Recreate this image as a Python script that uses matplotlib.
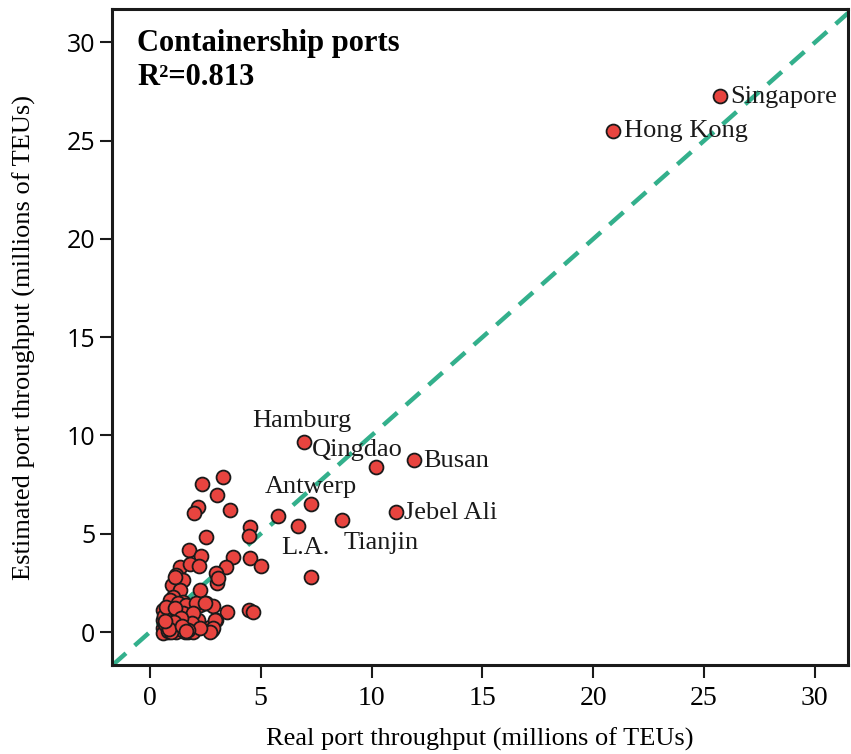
import numpy as np
import matplotlib
matplotlib.use("Agg")
import matplotlib.pyplot as plt

# Labelled ports: real vs estimated throughput (millions of TEUs)
port_names = ["Singapore", "Hong Kong", "Hamburg", "Qingdao", "Busan",
              "Jebel Ali", "Tianjin", "Antwerp", "L.A."]
port_real = [25.7, 20.9, 6.95, 10.2, 11.9, 11.1, 8.66, 7.26, 6.68]
port_est = [27.3, 25.5, 9.68, 8.4, 8.76, 6.1, 5.7, 6.52, 5.4]

# label offsets in pixels (dx, dy, horizontal alignment)
label_offsets = [(11, -1, "left"), (11, 0, "left"), (-2, 21, "center"),
                 (-19, 17, "center"), (10, -1, "left"), (8, -1, "left"),
                 (39, -23, "center"), (0, 17, "center"), (7, -22, "center")]

# remaining ports
other_real = [5.79, 7.26, 3.28, 2.33, 3.05, 2.18, 2.0, 3.61, 4.5, 4.47, 2.53,
              1.77, 2.30, 3.76, 4.51, 5.0, 1.35, 1.83, 2.22, 3.43, 3.0, 3.04,
              2.26, 1.2, 1.5, 0.98, 1.35, 1.04, 1.5, 2.26, 2.53, 2.86, 3.46,
              4.47, 4.66, 3.0, 2.7, 2.78, 2.17, 1.95, 1.73, 1.13, 3.08, 0.9,
              1.28, 1.65, 2.1, 2.48, 0.6, 0.9, 1.5, 1.95, 2.93, 0.6, 1.05,
              1.5, 1.88, 2.86, 0.6, 0.83, 1.2, 1.58, 1.95, 2.7, 0.6, 0.98,
              2.26, 0.75, 0.7, 1.05, 1.35, 0.65, 0.8, 1.25, 1.7, 0.72, 1.15,
              1.4, 0.95, 1.1, 0.85, 1.45, 0.68, 1.62]
other_est = [5.9, 2.8, 7.88, 7.52, 6.95, 6.38, 6.08, 6.21, 5.35, 4.9, 4.86,
             4.18, 3.87, 3.8, 3.75, 3.36, 3.3, 3.46, 3.36, 3.29, 2.99, 2.51,
             2.14, 2.9, 2.65, 2.4, 2.14, 1.8, 1.55, 1.38, 1.46, 1.34, 1.03,
             1.12, 1.0, 0.61, 0.27, 0.1, 0.61, 0.27, 0.02, 2.8, 2.73, 1.63,
             1.46, 1.38, 1.46, 1.46, 1.12, 1.03, 0.95, 0.95, 0.61, 0.61, 0.61,
             0.44, 0.44, 0.19, 0.19, 0.02, 0.02, 0.02, 0.02, 0.02, -0.05, 0.27,
             0.19, 0.85, 0.4, 0.3, 0.15, 0.8, 0.05, 0.75, 0.1, 1.25, 1.2,
             0.7, 0.0, 0.5, 0.15, 0.3, 0.55, 0.05]

r_squared = 0.813

fig = plt.figure(figsize=(8.51, 7.54), dpi=100)
ax = fig.add_axes([0.1316, 0.118, 0.865, 0.870])

ax.set_xlim(-1.71, 31.5)
ax.set_ylim(-1.68, 31.7)

# 1:1 reference line
ax.plot([-1.71, 31.5], [-1.71, 31.5], color="#33b08c", lw=3.2,
        dashes=(4.2, 2.6), zorder=1)

marker_style = dict(s=100, c="#e8443f", edgecolors="#1a1a1a", linewidths=1.3,
                    zorder=3)
ax.scatter(other_real, other_est, **marker_style)
ax.scatter(port_real, port_est, **marker_style)

for name, x, y, (dx, dy, ha) in zip(port_names, port_real, port_est, label_offsets):
    ax.annotate(name, (x, y), xytext=(dx, dy), textcoords="offset pixels",
                ha=ha, va="center", fontsize=19, family="Liberation Serif",
                color="#1a1a1a", zorder=4)

ax.text(0.034, 0.97, "Containership ports", transform=ax.transAxes,
        ha="left", va="top", fontsize=22, fontweight="bold",
        family="Liberation Serif")
ax.text(0.034, 0.918, f"R²={r_squared:.3f}", transform=ax.transAxes,
        ha="left", va="top", fontsize=22, fontweight="bold",
        family="Liberation Serif")

ticks = [0, 5, 10, 15, 20, 25, 30]
ax.set_xticks(ticks)
ax.set_yticks(ticks)
ax.set_xticklabels([str(t) for t in ticks], family="Liberation Serif", fontsize=20)
ax.set_yticklabels([str(t) for t in ticks], family="Open Sans", fontsize=18)
ax.tick_params(axis="both", direction="out", length=9, width=1.5,
               color="#1a1a1a")
ax.tick_params(axis="x", pad=6)
ax.tick_params(axis="y", pad=3)

for spine in ax.spines.values():
    spine.set_linewidth(2.2)
    spine.set_color("#1a1a1a")

ax.set_xlabel("Real port throughput (millions of TEUs)", family="Liberation Serif",
              fontsize=19, labelpad=12)
ax.set_ylabel("Estimated port throughput (millions of TEUs)",
              family="Liberation Serif", fontsize=19, labelpad=22)

fig.savefig("out.png", dpi=100)
